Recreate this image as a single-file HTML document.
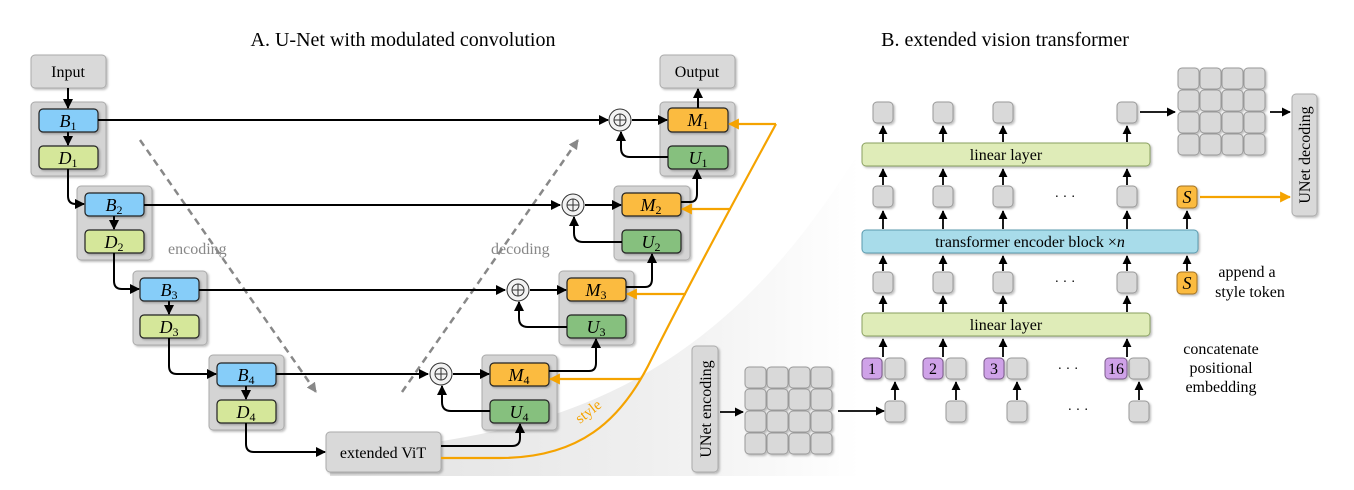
<!DOCTYPE html>
<html><head><meta charset="utf-8"><style>
html,body{margin:0;padding:0;background:#fff;}
svg{display:block;}
text{font-family:"Liberation Serif",serif;}
</style></head><body>
<svg width="1354" height="490" viewBox="0 0 1354 490" xmlns="http://www.w3.org/2000/svg">
<defs>
<marker id="a" viewBox="0 0 10 10" refX="9" refY="5" markerWidth="5" markerHeight="5" orient="auto"><path d="M0,0 L10,5 L0,10 z" fill="#000"/></marker>
<marker id="ao" viewBox="0 0 10 10" refX="9" refY="5" markerWidth="5" markerHeight="5" orient="auto"><path d="M0,0 L10,5 L0,10 z" fill="#f5a300"/></marker>
<marker id="ag" viewBox="0 0 10 10" refX="9" refY="5" markerWidth="4" markerHeight="4" orient="auto"><path d="M0,0 L10,5 L0,10 z" fill="#888"/></marker>
<linearGradient id="bg" x1="0" y1="0" x2="1" y2="0"><stop offset="0" stop-color="#e2e2e2"/><stop offset="0.6" stop-color="#efefef"/><stop offset="1" stop-color="#fff"/></linearGradient>
<filter id="sh" x="-20%" y="-20%" width="150%" height="150%"><feDropShadow dx="1.5" dy="1.5" stdDeviation="1" flood-color="#000" flood-opacity="0.25"/></filter>
</defs>

<path d="M330,476 L330,452 C560,440 720,380 860,150 L860,476 Z" fill="url(#bg)"/>

<text x="403" y="46" font-size="20" text-anchor="middle">A. U-Net with modulated convolution</text>
<text x="1005" y="46" font-size="20" text-anchor="middle">B. extended vision transformer</text>

<g filter="url(#sh)" stroke="#aaa" stroke-width="1" fill="#d9d9d9">
<rect x="31" y="55" width="75" height="33" rx="4"/>
<rect x="660" y="55" width="75" height="33" rx="4"/>
<rect x="31" y="102" width="75" height="74" rx="4" fill="#d4d4d4"/>
<rect x="77" y="186" width="75" height="74" rx="4" fill="#d4d4d4"/>
<rect x="133" y="271" width="74" height="74" rx="4" fill="#d4d4d4"/>
<rect x="209" y="355" width="75" height="75" rx="4" fill="#d4d4d4"/>
<rect x="660" y="102" width="75" height="74" rx="4" fill="#d4d4d4"/>
<rect x="614" y="186" width="76" height="74" rx="4" fill="#d4d4d4"/>
<rect x="559" y="271" width="75" height="74" rx="4" fill="#d4d4d4"/>
<rect x="482" y="355" width="75" height="75" rx="4" fill="#d4d4d4"/>
<rect x="326" y="432" width="115" height="40" rx="4"/>
<rect x="692" y="346" width="26" height="126" rx="4"/>
<rect x="1292" y="94" width="25" height="122" rx="4"/>
</g>
<text x="68" y="77" font-size="16" text-anchor="middle">Input</text>
<text x="697" y="77" font-size="16" text-anchor="middle">Output</text>
<text x="383" y="458" font-size="16" text-anchor="middle">extended ViT</text>
<text transform="translate(711,409) rotate(-90)" font-size="16" text-anchor="middle">UNet encoding</text>
<text transform="translate(1310,155) rotate(-90)" font-size="16" text-anchor="middle">UNet decoding</text>

<g stroke="#222" stroke-width="1.2" filter="url(#sh)">
<rect x="39" y="109" width="59" height="23" rx="4" fill="#86cdf9"/>
<rect x="39" y="146" width="59" height="23" rx="4" fill="#d5e79a"/>
<rect x="85" y="193" width="59" height="23" rx="4" fill="#86cdf9"/>
<rect x="85" y="230" width="59" height="23" rx="4" fill="#d5e79a"/>
<rect x="140" y="278" width="59" height="23" rx="4" fill="#86cdf9"/>
<rect x="140" y="315" width="59" height="23" rx="4" fill="#d5e79a"/>
<rect x="217" y="363" width="59" height="23" rx="4" fill="#86cdf9"/>
<rect x="217" y="400" width="59" height="23" rx="4" fill="#d5e79a"/>
<rect x="668" y="108" width="60" height="24" rx="4" fill="#fbbb3f"/>
<rect x="668" y="146" width="60" height="23" rx="4" fill="#86c07e"/>
<rect x="622" y="193" width="59" height="23" rx="4" fill="#fbbb3f"/>
<rect x="622" y="230" width="59" height="23" rx="4" fill="#86c07e"/>
<rect x="567" y="278" width="59" height="23" rx="4" fill="#fbbb3f"/>
<rect x="567" y="315" width="59" height="23" rx="4" fill="#86c07e"/>
<rect x="490" y="363" width="59" height="23" rx="4" fill="#fbbb3f"/>
<rect x="490" y="400" width="59" height="23" rx="4" fill="#86c07e"/>
</g>
<g font-size="18" font-style="italic" text-anchor="middle">
<text x="68" y="127">B<tspan font-size="12" font-style="normal" dy="3">1</tspan></text>
<text x="68" y="164">D<tspan font-size="12" font-style="normal" dy="3">1</tspan></text>
<text x="114" y="211">B<tspan font-size="12" font-style="normal" dy="3">2</tspan></text>
<text x="114" y="248">D<tspan font-size="12" font-style="normal" dy="3">2</tspan></text>
<text x="169" y="296">B<tspan font-size="12" font-style="normal" dy="3">3</tspan></text>
<text x="169" y="333">D<tspan font-size="12" font-style="normal" dy="3">3</tspan></text>
<text x="246" y="381">B<tspan font-size="12" font-style="normal" dy="3">4</tspan></text>
<text x="246" y="418">D<tspan font-size="12" font-style="normal" dy="3">4</tspan></text>
<text x="698" y="126">M<tspan font-size="12" font-style="normal" dy="3">1</tspan></text>
<text x="698" y="164">U<tspan font-size="12" font-style="normal" dy="3">1</tspan></text>
<text x="651" y="211">M<tspan font-size="12" font-style="normal" dy="3">2</tspan></text>
<text x="651" y="248">U<tspan font-size="12" font-style="normal" dy="3">2</tspan></text>
<text x="596" y="296">M<tspan font-size="12" font-style="normal" dy="3">3</tspan></text>
<text x="596" y="333">U<tspan font-size="12" font-style="normal" dy="3">3</tspan></text>
<text x="519" y="381">M<tspan font-size="12" font-style="normal" dy="3">4</tspan></text>
<text x="519" y="418">U<tspan font-size="12" font-style="normal" dy="3">4</tspan></text>
</g>

<g stroke="#888" stroke-width="2.5" stroke-dasharray="7,5" fill="none">
<line x1="140" y1="140" x2="316" y2="392" marker-end="url(#ag)"/>
<line x1="402" y1="392" x2="578" y2="140" marker-end="url(#ag)"/>
</g>
<text x="168" y="254" font-size="16" fill="#888">encoding</text>
<text x="491" y="254" font-size="16" fill="#888">decoding</text>

<g stroke="#000" stroke-width="2" fill="none" marker-end="url(#a)">
<line x1="68" y1="88" x2="68" y2="108"/>
<line x1="68" y1="132" x2="68" y2="145"/>
<line x1="114" y1="216" x2="114" y2="229"/>
<line x1="169" y1="301" x2="169" y2="314"/>
<line x1="246" y1="386" x2="246" y2="399"/>
<path d="M68,169 V196 Q68,204 76,204 H84"/>
<path d="M114,253 V281 Q114,289 122,289 H139"/>
<path d="M169,338 V366 Q169,374 177,374 H216"/>
<path d="M246,423 V444 Q246,452 254,452 H325"/>
<line x1="98" y1="120" x2="608" y2="120"/>
<line x1="144" y1="205" x2="560" y2="205"/>
<line x1="199" y1="290" x2="505" y2="290"/>
<line x1="276" y1="374" x2="428" y2="374"/>
<line x1="632" y1="120" x2="667" y2="120"/>
<line x1="585" y1="205" x2="621" y2="205"/>
<line x1="530" y1="290" x2="566" y2="290"/>
<line x1="453" y1="374" x2="489" y2="374"/>
<line x1="698" y1="108" x2="698" y2="89"/>
<path d="M668,157 H630 Q621,157 621,148 V132"/>
<path d="M622,242 H583 Q574,242 574,233 V217"/>
<path d="M567,327 H528 Q519,327 519,318 V302"/>
<path d="M490,411 H451 Q442,411 442,402 V386"/>
<path d="M681,202 H690 Q697,202 697,194 V170"/>
<path d="M626,287 H645 Q652,287 652,279 V254"/>
<path d="M549,371 H589 Q596,371 596,363 V339"/>
<path d="M441,446 H512 Q520,446 520,438 V424"/>
</g>
<g stroke="#333" stroke-width="1" fill="#f2f2f2">
<circle cx="620" cy="120" r="11"/><circle cx="573" cy="205" r="11"/><circle cx="518" cy="290" r="11"/><circle cx="441" cy="374" r="11"/>
</g>
<g stroke="#333" stroke-width="1" fill="none">
<circle cx="620" cy="120" r="6"/><path d="M614,120H626M620,114V126"/>
<circle cx="573" cy="205" r="6"/><path d="M567,205H579M573,199V211"/>
<circle cx="518" cy="290" r="6"/><path d="M512,290H524M518,284V296"/>
<circle cx="441" cy="374" r="6"/><path d="M435,374H447M441,368V380"/>
</g>

<g stroke="#f5a300" stroke-width="2.2" fill="none">
<path d="M441,458 H500 C580,458 620,420 648,366 C690,282 740,190 776,124"/>
<line x1="776" y1="124" x2="729" y2="124" marker-end="url(#ao)"/>
<line x1="731" y1="209" x2="682" y2="209" marker-end="url(#ao)"/>
<line x1="686" y1="294" x2="627" y2="294" marker-end="url(#ao)"/>
<line x1="641" y1="379" x2="550" y2="379" marker-end="url(#ao)"/>
<line x1="1200" y1="197" x2="1290" y2="197" marker-end="url(#ao)"/>
</g>
<text transform="translate(580,424) rotate(-38)" font-size="15" fill="#f5a300">style</text>

<g stroke="#999" stroke-width="1" fill="#d9d9d9" filter="url(#sh)">
<rect x="745" y="367" width="21" height="21" rx="4"/><rect x="767" y="367" width="21" height="21" rx="4"/><rect x="789" y="367" width="21" height="21" rx="4"/><rect x="811" y="367" width="21" height="21" rx="4"/>
<rect x="745" y="389" width="21" height="21" rx="4"/><rect x="767" y="389" width="21" height="21" rx="4"/><rect x="789" y="389" width="21" height="21" rx="4"/><rect x="811" y="389" width="21" height="21" rx="4"/>
<rect x="745" y="411" width="21" height="21" rx="4"/><rect x="767" y="411" width="21" height="21" rx="4"/><rect x="789" y="411" width="21" height="21" rx="4"/><rect x="811" y="411" width="21" height="21" rx="4"/>
<rect x="745" y="433" width="21" height="21" rx="4"/><rect x="767" y="433" width="21" height="21" rx="4"/><rect x="789" y="433" width="21" height="21" rx="4"/><rect x="811" y="433" width="21" height="21" rx="4"/>
<rect x="1178" y="68" width="21" height="21" rx="4"/><rect x="1200" y="68" width="21" height="21" rx="4"/><rect x="1222" y="68" width="21" height="21" rx="4"/><rect x="1244" y="68" width="21" height="21" rx="4"/>
<rect x="1178" y="90" width="21" height="21" rx="4"/><rect x="1200" y="90" width="21" height="21" rx="4"/><rect x="1222" y="90" width="21" height="21" rx="4"/><rect x="1244" y="90" width="21" height="21" rx="4"/>
<rect x="1178" y="112" width="21" height="21" rx="4"/><rect x="1200" y="112" width="21" height="21" rx="4"/><rect x="1222" y="112" width="21" height="21" rx="4"/><rect x="1244" y="112" width="21" height="21" rx="4"/>
<rect x="1178" y="134" width="21" height="21" rx="4"/><rect x="1200" y="134" width="21" height="21" rx="4"/><rect x="1222" y="134" width="21" height="21" rx="4"/><rect x="1244" y="134" width="21" height="21" rx="4"/>
<rect x="873" y="102" width="20" height="21" rx="4"/><rect x="933" y="102" width="20" height="21" rx="4"/><rect x="993" y="102" width="20" height="21" rx="4"/><rect x="1117" y="102" width="20" height="21" rx="4"/>
<rect x="873" y="186" width="20" height="21" rx="4"/><rect x="933" y="186" width="20" height="21" rx="4"/><rect x="993" y="186" width="20" height="21" rx="4"/><rect x="1117" y="186" width="20" height="21" rx="4"/>
<rect x="873" y="272" width="20" height="21" rx="4"/><rect x="933" y="272" width="20" height="21" rx="4"/><rect x="993" y="272" width="20" height="21" rx="4"/><rect x="1117" y="272" width="20" height="21" rx="4"/>
<rect x="885" y="358" width="20" height="21" rx="4"/><rect x="946" y="358" width="20" height="21" rx="4"/><rect x="1007" y="358" width="20" height="21" rx="4"/><rect x="1129" y="358" width="20" height="21" rx="4"/>
<rect x="885" y="401" width="20" height="21" rx="4"/><rect x="946" y="401" width="20" height="21" rx="4"/><rect x="1007" y="401" width="20" height="21" rx="4"/><rect x="1129" y="401" width="20" height="21" rx="4"/>
</g>
<g stroke="#7a5a8a" stroke-width="1" fill="#cfa2e8" filter="url(#sh)">
<rect x="862" y="358" width="20" height="21" rx="4"/><rect x="923" y="358" width="20" height="21" rx="4"/><rect x="984" y="358" width="20" height="21" rx="4"/><rect x="1105" y="358" width="22" height="21" rx="4"/>
</g>
<g stroke="#a07020" stroke-width="1" fill="#fbbb3f" filter="url(#sh)">
<rect x="1177" y="186" width="20" height="22" rx="4"/><rect x="1177" y="272" width="20" height="22" rx="4"/>
</g>
<g font-size="16" text-anchor="middle">
<text x="872" y="374">1</text><text x="933" y="374">2</text><text x="994" y="374">3</text><text x="1116" y="374">16</text>
</g>
<g font-size="18" font-style="italic" text-anchor="middle">
<text x="1187" y="203">S</text><text x="1187" y="289">S</text>
</g>

<g filter="url(#sh)" stroke="#8aa060" stroke-width="1">
<rect x="862" y="143" width="288" height="23" rx="4" fill="#dfecb8"/>
<rect x="862" y="313" width="288" height="23" rx="4" fill="#dfecb8"/>
<rect x="862" y="230" width="336" height="23" rx="4" fill="#a8dcea" stroke="#5a9aae"/>
</g>
<text x="1006" y="160" font-size="16" text-anchor="middle">linear layer</text>
<text x="1006" y="330" font-size="16" text-anchor="middle">linear layer</text>
<text x="1030" y="247" font-size="16" text-anchor="middle">transformer encoder block ×<tspan font-style="italic">n</tspan></text>

<g font-size="16" text-anchor="middle">
<text x="1247" y="277">append a</text><text x="1250" y="297">style token</text>
<text x="1221" y="354">concatenate</text><text x="1221" y="373">positional</text><text x="1221" y="392">embedding</text>
</g>
<g font-size="14" text-anchor="middle">
<text x="1065" y="201">· · ·</text><text x="1065" y="286">· · ·</text><text x="1068" y="373">· · ·</text><text x="1078" y="414">· · ·</text>
</g>

<g stroke="#000" stroke-width="1.8" fill="none" marker-end="url(#a)">
<line x1="883" y1="142" x2="883" y2="126"/><line x1="943" y1="142" x2="943" y2="126"/><line x1="1003" y1="142" x2="1003" y2="126"/><line x1="1127" y1="142" x2="1127" y2="126"/>
<line x1="883" y1="185" x2="883" y2="169"/><line x1="943" y1="185" x2="943" y2="169"/><line x1="1003" y1="185" x2="1003" y2="169"/><line x1="1127" y1="185" x2="1127" y2="169"/>
<line x1="883" y1="229" x2="883" y2="211"/><line x1="943" y1="229" x2="943" y2="211"/><line x1="1003" y1="229" x2="1003" y2="211"/><line x1="1127" y1="229" x2="1127" y2="211"/><line x1="1187" y1="229" x2="1187" y2="211"/>
<line x1="883" y1="271" x2="883" y2="256"/><line x1="943" y1="271" x2="943" y2="256"/><line x1="1003" y1="271" x2="1003" y2="256"/><line x1="1127" y1="271" x2="1127" y2="256"/><line x1="1187" y1="271" x2="1187" y2="256"/>
<line x1="883" y1="312" x2="883" y2="296"/><line x1="943" y1="312" x2="943" y2="296"/><line x1="1003" y1="312" x2="1003" y2="296"/><line x1="1127" y1="312" x2="1127" y2="296"/>
<line x1="883" y1="357" x2="883" y2="339"/><line x1="943" y1="357" x2="943" y2="339"/><line x1="1003" y1="357" x2="1003" y2="339"/><line x1="1127" y1="357" x2="1127" y2="339"/>
<line x1="895" y1="400" x2="895" y2="382"/><line x1="956" y1="400" x2="956" y2="382"/><line x1="1017" y1="400" x2="1017" y2="382"/><line x1="1139" y1="400" x2="1139" y2="382"/>
<line x1="720" y1="412" x2="743" y2="412"/>
<line x1="838" y1="411" x2="884" y2="411"/>
<line x1="1140" y1="112" x2="1175" y2="112"/>
<line x1="1270" y1="112" x2="1290" y2="112"/>
</g>
</svg>
</body></html>
